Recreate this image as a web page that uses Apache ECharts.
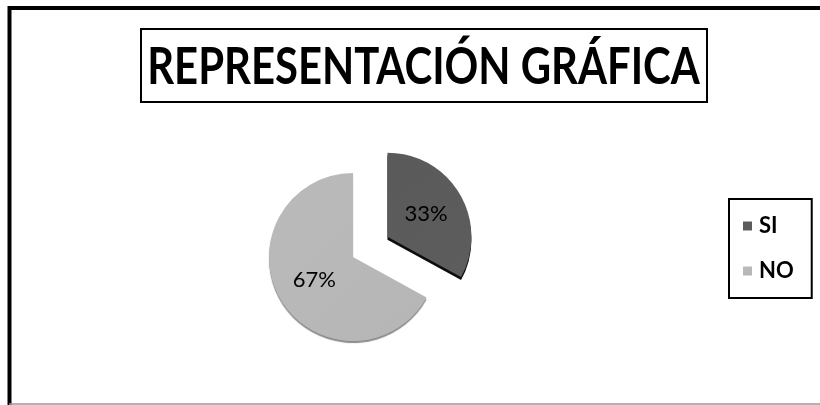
<!DOCTYPE html>
<html>
<head>
<meta charset="utf-8">
<script src="https://cdn.jsdelivr.net/npm/echarts@6/dist/echarts.min.js"></script>
<style>
html,body{margin:0;padding:0;background:#fff;}
#chart{width:820px;height:405px;}
</style>
</head>
<body>
<div id="chart"></div>
<script>
const titleText = 'REPRESENTACIÓN GRÁFICA';
const categories = ['SI', 'NO'];
const values = [33, 67];
const colors = ['#575757', '#b3b3b3'];

const chart = echarts.init(document.getElementById('chart'));
const option = {
  animation: false,
  backgroundColor: '#ffffff',
  legend: {
    orient: 'vertical',
    left: 729,
    top: 199,
    padding: [16, 18, 16, 14],
    itemWidth: 9,
    itemHeight: 9,
    itemGap: 23,
    borderColor: '#000',
    borderWidth: 2,
    icon: 'rect',
    data: categories,
    textStyle: {
      fontFamily: 'Lato',
      fontWeight: 'bold',
      fontSize: 22,
      lineHeight: 22,
      color: '#000',
      padding: [0, 0, 0, 2]
    }
  },
  graphic: [
    {type: 'polyline', silent: true, shape: {points: [[9.5, 405], [9.5, 8], [820, 8]]}, style: {stroke: '#000', lineWidth: 4, fill: null}},
    {type: 'line', silent: true, shape: {x1: 9, y1: 404, x2: 820, y2: 404}, style: {stroke: '#999', lineWidth: 1.5}},
    {type: 'rect', silent: true, shape: {x: 141, y: 29, width: 566, height: 73}, style: {stroke: '#000', lineWidth: 2, fill: '#fff'}},
    {type: 'text', silent: true, x: 423.5, y: 68, scaleX: 0.82, originX: 0, originY: 0,
      style: {text: titleText, fontFamily: 'Lato', fontWeight: 'bold', fontSize: 51, fill: '#000', align: 'center', verticalAlign: 'middle'}}
  ],
  series: [{
    type: 'pie',
    center: [353, 257],
    radius: 84,
    startAngle: 90,
    clockwise: true,
    selectedMode: 'single',
    selectedOffset: 40,
    label: {
      show: true,
      position: 'inside',
      formatter: '{d}%',
      fontFamily: 'Lato',
      fontSize: 22,
      color: '#000'
    },
    labelLine: {show: false},
    emphasis: {disabled: true},
    data: categories.map((c, i) => ({
      name: c,
      value: values[i],
      selected: i === 0,
      itemStyle: {
        shadowColor: i === 0 ? 'rgba(0,0,0,0.95)' : 'rgba(0,0,0,0.45)',
        shadowBlur: i === 0 ? 0 : 1,
        shadowOffsetY: i === 0 ? 3 : 2,
        color: new echarts.graphic.LinearGradient(0, 0, 1, 1, [
          {offset: 0, color: echarts.color.lift(colors[i], -0.04)},
          {offset: 1, color: echarts.color.lift(colors[i], 0.04)}
        ])
      }
    }))
  }]
};
chart.setOption(option);
</script>
</body>
</html>
